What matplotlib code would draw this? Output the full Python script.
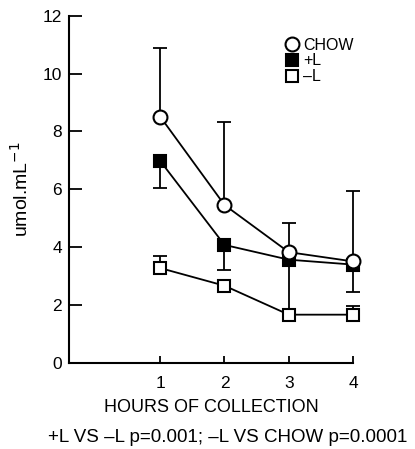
import matplotlib.pyplot as plt

# data
hours = [1, 2, 3, 4]

chow = [8.51, 5.46, 3.83, 3.51]
chow_err_up = [2.39, 2.86, 1.02, 2.44]

plus_l = [6.98, 4.08, 3.57, 3.40]
plus_l_err_dn = [0.92, 0.86, 1.72, 0.96]

minus_l = [3.28, 2.67, 1.67, 1.67]
minus_l_err_up = [0.40, 0.18, 0.20, 0.31]

plt.rcParams['font.family'] = ['Liberation Sans', 'DejaVu Sans']

W, H = 415, 449
fig = plt.figure(figsize=(W / 100, H / 100), dpi=100)
ax = fig.add_axes([69 / W, 1 - 363 / H, (353 - 69) / W, (363 - 15.7) / H])

lw = 1.3
# error bars (one-sided)
ax.errorbar(hours, chow, yerr=[[0] * 4, chow_err_up], fmt='none', ecolor='black',
            elinewidth=lw, capsize=5, capthick=lw, zorder=1, clip_on=False)
ax.errorbar(hours, plus_l, yerr=[plus_l_err_dn, [0] * 4], fmt='none', ecolor='black',
            elinewidth=lw, capsize=5, capthick=lw, zorder=1, clip_on=False)
ax.errorbar(hours, minus_l, yerr=[[0] * 4, minus_l_err_up], fmt='none', ecolor='black',
            elinewidth=lw, capsize=5, capthick=lw, zorder=1, clip_on=False)

ax.plot(hours, minus_l, color='black', lw=lw, marker='s', ms=8.5, mfc='white',
        mec='black', mew=1.5, zorder=2, label='\u2013L', clip_on=False)
ax.plot(hours, plus_l, color='black', lw=lw, marker='s', ms=8.5, mfc='black',
        mec='black', mew=1.5, zorder=3, label='+L', clip_on=False)
ax.plot(hours, chow, color='black', lw=lw, marker='o', ms=10, mfc='white',
        mec='black', mew=1.5, zorder=4, label='CHOW', clip_on=False)

ax.set_xlim(-0.42, 4)
ax.set_ylim(0, 12)
ax.set_xticks(hours)
ax.set_yticks(range(0, 13, 2))
ax.spines['top'].set_visible(False)
ax.spines['right'].set_visible(False)
ax.spines['left'].set_linewidth(1.5)
ax.spines['bottom'].set_linewidth(1.5)
ax.tick_params(axis='y', direction='in', length=9, width=1.3, labelsize=12.5, pad=5)
ax.tick_params(axis='x', direction='in', length=5, width=1.3, labelsize=12.5, pad=9)

ax.set_ylabel('umol.mL$^{-1}$', fontsize=14, labelpad=8)
fig.text(211 / W, 1 - 408 / H, 'HOURS OF COLLECTION', ha='center', va='center',
         fontsize=13)
fig.text(228 / W, 1 - 437 / H, '+L VS \u2013L p=0.001; \u2013L VS CHOW p=0.0001',
         ha='center', va='center', fontsize=13.5)

handles, labels = ax.get_legend_handles_labels()
ax.legend(handles[::-1], labels[::-1], loc='upper right', bbox_to_anchor=(1.03, 0.96),
          frameon=False, fontsize=11.5, handlelength=0.6, handletextpad=0.4,
          labelspacing=0.05, borderpad=0)

fig.savefig('out.png', dpi=100)
